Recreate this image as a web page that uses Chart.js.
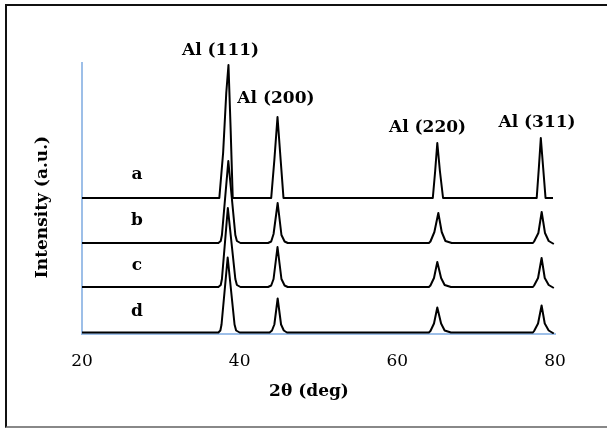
<!DOCTYPE html>
<html lang="en">
<head>
<meta charset="UTF-8">
<title>XRD patterns a-d</title>
<script src="https://cdn.jsdelivr.net/npm/chart.js"></script>
<style>
    html, body {
        margin: 0;
        background: #fff;
        overflow: hidden;
    }
    .frame {
        position: absolute;
        left: 5px;
        top: 4px;
        width: 620px;
        height: 420px;
        border-left: 2px solid #111;
        border-top: 2px solid #111;
        border-bottom: 2px solid #888;
    }
    #xrd {
        position: absolute;
        left: 0;
        top: 0;
    }
</style>
</head>
<body>
<div class="frame"></div>
<canvas id="xrd" width="607" height="428"></canvas>

<script>
    // intensity above each pattern's own baseline, [2theta, counts]
    const patternA = [
        [20, 0], [37.42, 0], [37.9, 45], [38.3, 105], [38.58, 133], [38.85, 70], [39.12, 0],
        [44.0, 0], [44.4, 38], [44.8, 81], [45.2, 38], [45.56, 0],
        [64.5, 0], [64.8, 27], [65.07, 55], [65.4, 27], [65.8, 0],
        [77.68, 0], [77.95, 30], [78.2, 60], [78.5, 30], [78.8, 0], [79.75, 0]
    ];
    const patternB = [
        [20, 0], [37.3, 0], [37.6, 2], [37.75, 8], [38.56, 82], [39.45, 8], [39.65, 2], [40.1, 0],
        [43.6, 0], [44.0, 1.5], [44.3, 9], [44.82, 40], [45.3, 8], [45.7, 1.5], [46.1, 0],
        [64.0, 0], [64.2, 1.5], [64.7, 11], [65.2, 30], [65.63, 11], [66.1, 2], [66.9, 0],
        [77.2, 0], [77.35, 1.5], [77.89, 10], [78.31, 31], [78.73, 10], [79.2, 2], [79.85, -1]
    ];
    const patternC = [
        [20, 0], [37.3, 0], [37.6, 2], [37.75, 8], [38.5, 79], [39.45, 8], [39.65, 2], [40.1, 0],
        [43.6, 0], [44.0, 1.5], [44.3, 8], [44.8, 40], [45.3, 8], [45.7, 1.5], [46.1, 0],
        [64.0, 0], [64.2, 1.5], [64.65, 9], [65.07, 25], [65.55, 9], [66.0, 2], [66.8, 0],
        [77.2, 0], [77.35, 1.5], [77.85, 9], [78.3, 29], [78.7, 9], [79.2, 2], [79.85, -1]
    ];
    const patternD = [
        [20, 0], [37.3, 0], [37.55, 2], [37.7, 8], [38.48, 75], [39.35, 8], [39.55, 2], [40.0, 0],
        [43.8, 0], [44.1, 2], [44.4, 8], [44.82, 34], [45.25, 8], [45.6, 2], [46.0, 0],
        [64.0, 0], [64.2, 1.5], [64.65, 9], [65.07, 25], [65.55, 9], [66.0, 2], [66.8, 0],
        [77.2, 0], [77.35, 1.5], [77.85, 9], [78.3, 27], [78.7, 9], [79.2, 2], [79.85, -1]
    ];

    const sampleNames = ['a', 'b', 'c', 'd'];
    const patterns = [patternA, patternB, patternC, patternD];
    const offsets = [136, 91, 47, 1.5];   // vertical stacking shift

    const peakNames = ['Al (111)', 'Al (200)', 'Al (220)', 'Al (311)'];
    const xTicks = [20, 40, 60, 80];

    // where the texts go, in data units [2theta, intensity]
    const peakLabelAt = [[37.57, 283], [44.6, 235], [63.83, 206], [77.72, 211]];
    const sampleLabelAt = [[26.98, 159], [26.98, 113], [26.98, 68], [26.98, 22]];

    const serif = '"DejaVu Serif", "Liberation Serif", serif';

    const textPlugin = {
        id: 'texts',
        afterDraw(chart) {
            const { ctx, scales: { x, y } } = chart;
            ctx.save();
            ctx.fillStyle = '#000';
            ctx.textAlign = 'center';
            ctx.textBaseline = 'middle';

            ctx.font = 'bold 17px ' + serif;
            peakNames.forEach((name, i) => {
                ctx.fillText(name, x.getPixelForValue(peakLabelAt[i][0]), y.getPixelForValue(peakLabelAt[i][1]));
            });
            sampleNames.forEach((name, i) => {
                ctx.fillText(name, x.getPixelForValue(sampleLabelAt[i][0]), y.getPixelForValue(sampleLabelAt[i][1]));
            });

            // axis titles
            ctx.fillText('2θ (deg)', 309, 392);
            ctx.translate(43, 207);
            ctx.rotate(-Math.PI / 2);
            ctx.fillText('Intensity (a.u.)', 0, 0);
            ctx.restore();
        }
    };

    const ctx = document.getElementById('xrd').getContext('2d');
    new Chart(ctx, {
        type: 'line',
        data: {
            datasets: patterns.map((p, i) => ({
                label: sampleNames[i],
                data: p.map(([t, v]) => ({ x: t, y: v + offsets[i] })),
                borderColor: '#000',
                borderWidth: 2,
                borderJoinStyle: 'round',
                pointRadius: 0,
                tension: 0,
                fill: false
            }))
        },
        options: {
            responsive: false,
            animation: false,
            devicePixelRatio: 1,
            layout: { padding: { top: 63, right: 52, left: 0, bottom: 0 } },
            plugins: {
                legend: { display: false },
                tooltip: { enabled: false }
            },
            scales: {
                x: {
                    type: 'linear',
                    min: 20,
                    max: 80,
                    afterBuildTicks: s => { s.ticks = xTicks.map(v => ({ value: v })); },
                    ticks: { font: { family: serif, size: 17 }, color: '#000', padding: 17 },
                    grid: { display: false, drawTicks: false },
                    border: { color: '#9DBFE8', width: 2 },
                    afterFit: s => { s.height = 94; }
                },
                y: {
                    min: 0,
                    max: 271,
                    ticks: { display: false },
                    grid: { display: false, drawTicks: false },
                    border: { color: '#9DBFE8', width: 2 },
                    afterFit: s => { s.width = 82; }
                }
            }
        },
        plugins: [textPlugin]
    });
</script>
</body>
</html>
